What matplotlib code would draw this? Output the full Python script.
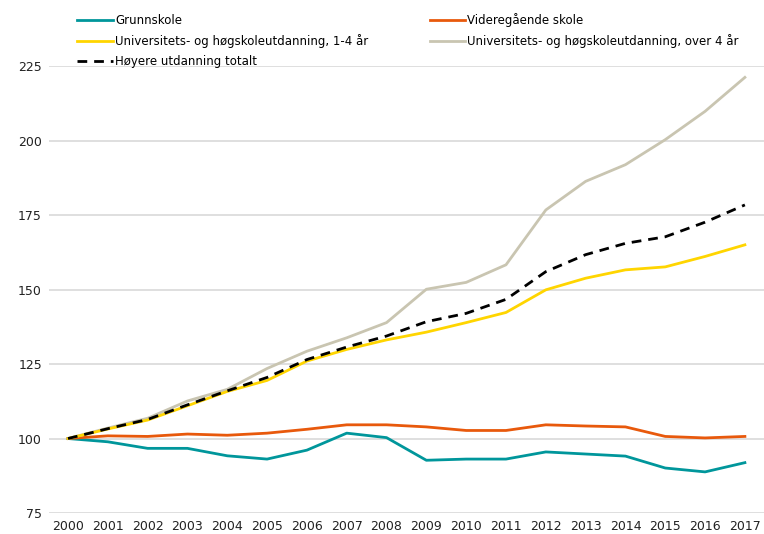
import matplotlib.pyplot as plt

years = list(range(2000, 2018))

grunnskole = [100, 98.9, 96.7, 96.7, 94.2, 93.1, 96.1, 101.8, 100.3, 92.7,
              93.1, 93.1, 95.5, 94.8, 94.1, 90.1, 88.8, 91.9]
videregaende = [100, 100.9, 100.7, 101.5, 101.1, 101.8, 103.1, 104.6, 104.6, 103.9,
                102.7, 102.7, 104.6, 104.2, 103.9, 100.7, 100.2, 100.7]
uni_1_4 = [100, 103.2, 106.2, 111.0, 115.8, 119.5, 126.0, 129.9, 133.1, 135.7,
           138.9, 142.3, 149.9, 153.8, 156.6, 157.6, 161.1, 165.0]
uni_over_4 = [100, 103.5, 106.8, 112.6, 116.5, 123.5, 129.3, 133.8, 138.9, 150.1,
              152.4, 158.3, 176.7, 186.3, 191.9, 200.3, 209.8, 221.2]
hoyere_totalt = [100, 103.3, 106.4, 111.3, 116.0, 120.5, 126.5, 130.7, 134.4, 139.2,
                 142.0, 146.7, 156.0, 161.7, 165.5, 167.7, 172.6, 178.4]

yticks = [75, 100, 125, 150, 175, 200, 225]

plt.rcParams['font.family'] = 'DejaVu Sans'
fig = plt.figure(figsize=(7.64, 5.34), dpi=100)
ax = fig.add_axes([0.064, 0.0393, 0.936, 0.837])

lw = 2.0
l_g, = ax.plot(years, grunnskole, color='#00969b', lw=lw, label='Grunnskole')
l_v, = ax.plot(years, videregaende, color='#e8590c', lw=lw, label='Videregående skole')
l_o4, = ax.plot(years, uni_over_4, color='#c9c5b1', lw=lw,
                label='Universitets- og høgskoleutdanning, over 4 år')
l_14, = ax.plot(years, uni_1_4, color='#ffd500', lw=lw,
                label='Universitets- og høgskoleutdanning, 1-4 år')
l_h, = ax.plot(years, hoyere_totalt, color='black', lw=lw, ls=(0, (3.5, 2.5)),
               label='Høyere utdanning totalt')

ax.set_xlim(1999.52, 2017.48)
ax.set_ylim(75, 225)
ax.set_yticks(yticks)
ax.set_xticks(years)
ax.tick_params(length=0, labelsize=9, colors='#222222', pad=5)
ax.grid(axis='y', color='#d9d9d9', lw=1.2)
ax.set_axisbelow(True)
for s in ax.spines.values():
    s.set_visible(False)

handles = [l_g, l_14, l_h, l_v, l_o4]
fig.legend(handles, [h.get_label() for h in handles], ncol=2, frameon=False,
           loc='upper left', bbox_to_anchor=(0.095, 0.985), fontsize=8.5,
           handlelength=3.0, handletextpad=0.2, columnspacing=5.2,
           labelspacing=0.62, borderaxespad=0)

fig.savefig('out.png', dpi=100)
